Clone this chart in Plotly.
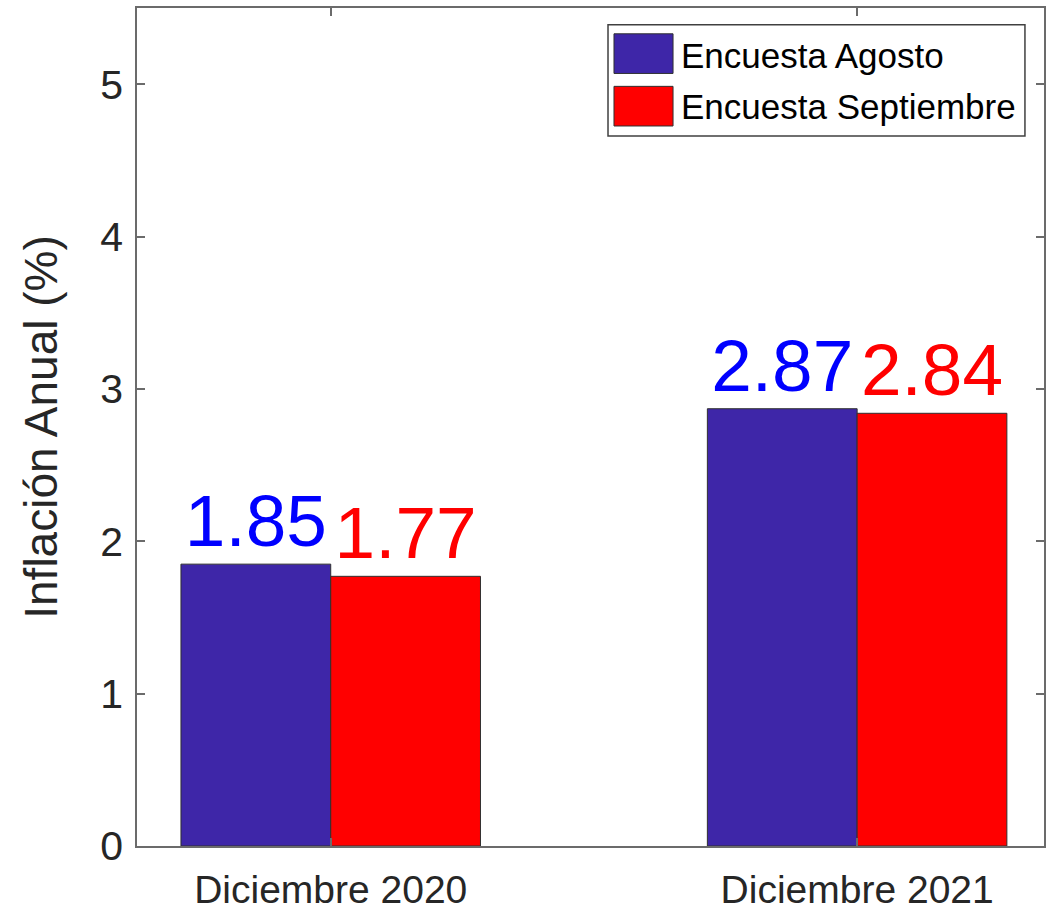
import plotly.graph_objects as go

categories = ["Diciembre 2020", "Diciembre 2021"]
series_names = ["Encuesta Agosto", "Encuesta Septiembre"]
agosto = [1.85, 2.87]
septiembre = [1.77, 2.84]
y_ticks = [0, 1, 2, 3, 4, 5]

bar_colors = ["#3E26A8", "#FF0000"]
label_colors = ["#0000FF", "#FF0000"]
axis_color = "#6b6b6b"
text_color = "#262626"
FONT = "Liberation Sans, Arial, sans-serif"

fig = go.Figure()
for name, vals, bc, lc in zip(series_names, [agosto, septiembre], bar_colors, label_colors):
    fig.add_trace(go.Bar(
        x=categories, y=vals, name=name,
        marker=dict(color=bc, line=dict(color="#303030", width=1)),
        text=[f"{v:.2f}" for v in vals],
        textposition="outside",
        outsidetextfont=dict(family=FONT, size=73, color=lc),
        constraintext="none",
        cliponaxis=False,
        showlegend=False,
    ))

fig.update_layout(
    width=1055, height=917,
    margin=dict(l=137, r=11, t=6, b=66),
    paper_bgcolor="white", plot_bgcolor="white",
    barmode="group", bargap=0.431, bargroupgap=0,
    font=dict(family=FONT, color=text_color),
)

fig.update_xaxes(
    range=[-0.368, 1.355],
    showline=True, linecolor=axis_color, linewidth=1.5, mirror="ticks",
    ticks="inside", ticklen=8, tickcolor=axis_color, tickwidth=1.5,
    tickfont=dict(size=39, color=text_color, family=FONT),
    ticklabelstandoff=8,
    showgrid=False, zeroline=False,
)
fig.update_yaxes(
    range=[0, 5.5], tickvals=y_ticks, ticktext=[str(t) for t in y_ticks],
    showline=True, linecolor=axis_color, linewidth=1.5, mirror="ticks",
    ticks="inside", ticklen=8, tickcolor=axis_color, tickwidth=1.5,
    tickfont=dict(size=41, color=text_color, family=FONT),
    ticklabelstandoff=4,
    showgrid=False, zeroline=False,
    title=dict(text="Inflación Anual (%)", font=dict(size=46, color=text_color, family=FONT), standoff=28),
)

# custom legend (large swatches as in the reference)
fig.add_shape(type="rect", xref="paper", yref="paper",
              x0=0.5193, x1=0.9790, y0=0.8473, y1=0.9799,
              line=dict(color="#404040", width=1.5), fillcolor="white", layer="above")
sw_y = [(0.9219, 0.9692), (0.8592, 0.9065)]
txt_y = [0.9432, 0.8828]
for i, name in enumerate(series_names):
    fig.add_shape(type="rect", xref="paper", yref="paper",
                  x0=0.5259, x1=0.5910, y0=sw_y[i][0], y1=sw_y[i][1],
                  line=dict(color="#303030", width=1), fillcolor=bar_colors[i], layer="above")
    fig.add_annotation(xref="paper", yref="paper", x=0.5976, y=txt_y[i],
                       text=name, showarrow=False, xanchor="left", yanchor="middle",
                       font=dict(size=35, color="black", family=FONT))

fig.write_html("out.html", config={"displayModeBar": False},
               post_script="document.body.style.margin='0';")
